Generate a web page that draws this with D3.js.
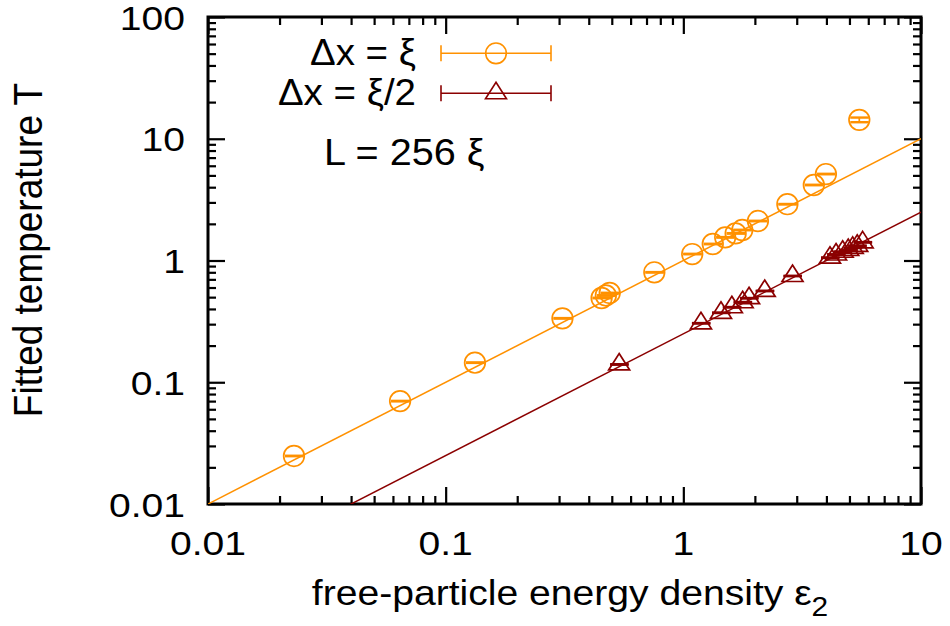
<!DOCTYPE html>
<html><head><meta charset="utf-8">
<script src="https://cdn.jsdelivr.net/npm/d3@7"></script>
<style>body{margin:0;background:#fff}svg{display:block}text{font-family:"Liberation Sans",Arial,sans-serif;fill:#000}</style>
</head><body><svg id="c" width="950" height="626"></svg>
<script>
// ---- data ----
const xMajorTicks = [0.01, 0.1, 1, 10];
const xTickLabels = ["0.01", "0.1", "1", "10"];
const yMajorTicks = [0.01, 0.1, 1, 10, 100];
const yTickLabels = ["0.01", "0.1", "1", "10", "100"];
const seriesNames = ["\u0394x = \u03be", "\u0394x = \u03be/2"];
const eps1 = [0.023, 0.0643, 0.1328, 0.31, 0.453, 0.472, 0.49, 0.755, 1.09, 1.33, 1.50, 1.66, 1.77, 2.06, 2.74, 3.54, 3.98, 5.50];
const T1   = [0.0248, 0.070, 0.1448, 0.335, 0.492, 0.516, 0.541, 0.80, 1.13, 1.366, 1.55, 1.67, 1.78, 2.11, 2.90, 4.17, 5.13, 14.3];
const err1 = [0.0001, 0.0003, 0.0006, 0.0015, 0.002, 0.002, 0.002, 0.003, 0.005, 0.006, 0.007, 0.007, 0.008, 0.009, 0.012, 0.018, 0.022, 0.63];
const eps2 = [0.537, 1.186, 1.44, 1.60, 1.776, 1.89, 2.20, 2.88, 4.14, 4.39, 4.68, 4.94, 5.16, 5.39, 5.68];
const T2   = [0.140, 0.305, 0.372, 0.413, 0.454, 0.49, 0.562, 0.746, 1.054, 1.12, 1.18, 1.22, 1.27, 1.32, 1.41];
const err2 = [0.0006, 0.0013, 0.0016, 0.0018, 0.002, 0.002, 0.0025, 0.003, 0.0045, 0.005, 0.005, 0.005, 0.0055, 0.0057, 0.006];
const fitCoef = [1, 0.25];          // T = c * eps
const fitDomain = [0.01, 10];
const annotation = "L = 256 \u03be";

// ---- layout ----
const L = 208, R = 921, Tp = 17, B = 504;
const colors = ["#ff9100", "#8b0000"];
const svg = d3.select("#c");
const x = d3.scaleLog().domain([0.01, 10]).range([L, R]);
const y = d3.scaleLog().domain([0.01, 100]).range([B, Tp]);

svg.append("defs").append("clipPath").attr("id", "clip")
  .append("rect").attr("x", L).attr("y", Tp).attr("width", R - L).attr("height", B - Tp);

function minorTicks(dom) {
  const out = [];
  for (let e = Math.log10(dom[0]); e < Math.log10(dom[1]) - 1e-9; e++)
    for (let k = 2; k <= 9; k++) out.push(k * Math.pow(10, e));
  return out;
}
function drawAxis(axisFn, scale, vals, size, tr) {
  const g = svg.append("g").attr("transform", tr)
    .call(axisFn(scale).tickValues(vals).tickSize(size).tickFormat(""));
  g.select(".domain").remove();
  g.selectAll(".tick line").attr("stroke", "#000").attr("stroke-width", 2.2);
}
drawAxis(d3.axisBottom, x, xMajorTicks, -17, `translate(0,${B})`);
drawAxis(d3.axisBottom, x, minorTicks([0.01, 10]), -8, `translate(0,${B})`);
drawAxis(d3.axisTop, x, xMajorTicks, -17, `translate(0,${Tp})`);
drawAxis(d3.axisTop, x, minorTicks([0.01, 10]), -8, `translate(0,${Tp})`);
drawAxis(d3.axisLeft, y, yMajorTicks, -17, `translate(${L},0)`);
drawAxis(d3.axisLeft, y, minorTicks([0.01, 100]), -8, `translate(${L},0)`);
drawAxis(d3.axisRight, y, yMajorTicks, -17, `translate(${R},0)`);
drawAxis(d3.axisRight, y, minorTicks([0.01, 100]), -8, `translate(${R},0)`);

svg.append("rect").attr("x", L).attr("y", Tp).attr("width", R - L).attr("height", B - Tp)
  .attr("fill", "none").attr("stroke", "#000").attr("stroke-width", 3);

// tick labels
const tf = 34, sx = 1.15;
svg.append("g").selectAll("text").data(xMajorTicks).join("text")
  .attr("transform", d => `translate(${x(d)},555) scale(${sx},1)`)
  .attr("text-anchor", "middle").attr("font-size", tf)
  .text((d, i) => xTickLabels[i]);
svg.append("g").selectAll("text").data(yMajorTicks).join("text")
  .attr("transform", d => `translate(185,${y(d) + 12.5}) scale(${sx},1)`)
  .attr("text-anchor", "end").attr("font-size", tf)
  .text((d, i) => yTickLabels[i]);

// axis titles
const xt = svg.append("text").attr("transform", `translate(570,605) scale(${sx},1.03)`)
  .attr("text-anchor", "middle").attr("font-size", 34);
xt.append("tspan").text("free-particle energy density \u03b5");
xt.append("tspan").attr("font-size", 26).attr("dy", 11).text("2");
svg.append("text").attr("transform", "translate(42,250) rotate(-90) scale(1,1.1)")
  .attr("text-anchor", "middle").attr("font-size", 37).text("Fitted temperature T");

// fit lines
const plot = svg.append("g").attr("clip-path", "url(#clip)");
fitCoef.forEach((c, i) => {
  plot.append("path")
    .datum(fitDomain.map(e => [e, c * e]))
    .attr("d", d3.line().x(d => x(d[0])).y(d => y(d[1])))
    .attr("fill", "none").attr("stroke", colors[i]).attr("stroke-width", 1.5);
});

// markers
const triPath = "M0,-11L10.5,5.5L-10.5,5.5Z";
function drawSeries(eps, T, err, color, kind) {
  const g = svg.append("g").attr("stroke", color).attr("fill", "none").attr("stroke-width", 1.7);
  const data = eps.map((e, i) => ({ e, t: T[i], s: err[i] }));
  const pts = g.selectAll("g").data(data).join("g")
    .attr("transform", d => `translate(${x(d.e)},0)`);
  pts.append("line").attr("x1", 0).attr("x2", 0)
    .attr("y1", d => y(d.t - d.s)).attr("y2", d => y(d.t + d.s));
  pts.append("line").attr("x1", -9).attr("x2", 9.5)
    .attr("y1", d => y(d.t - d.s)).attr("y2", d => y(d.t - d.s)).attr("stroke-width", 2.4);
  pts.append("line").attr("x1", -9).attr("x2", 9.5)
    .attr("y1", d => y(d.t + d.s)).attr("y2", d => y(d.t + d.s)).attr("stroke-width", 2.4);
  if (kind === 0)
    pts.append("circle").attr("cx", 0).attr("cy", d => y(d.t)).attr("r", 10.3);
  else
    pts.append("path").attr("d", triPath).attr("transform", d => `translate(0,${y(d.t)})`);
}
drawSeries(eps1, T1, err1, colors[0], 0);
drawSeries(eps2, T2, err2, colors[1], 1);

// legend
const legY = [53.3, 93.3];
seriesNames.forEach((name, i) => {
  svg.append("text").attr("transform", `translate(416,${legY[i] + 12}) scale(1.04,1)`)
    .attr("text-anchor", "end").attr("font-size", 37).text(name);
  const g = svg.append("g").attr("stroke", colors[i]).attr("fill", "none").attr("stroke-width", 1.6);
  g.append("line").attr("x1", 441).attr("x2", 551).attr("y1", legY[i]).attr("y2", legY[i]);
  g.append("line").attr("x1", 441).attr("x2", 441).attr("y1", legY[i] - 8).attr("y2", legY[i] + 8);
  g.append("line").attr("x1", 551).attr("x2", 551).attr("y1", legY[i] - 8).attr("y2", legY[i] + 8);
  if (i === 0) g.append("circle").attr("cx", 496).attr("cy", legY[i]).attr("r", 10.3);
  else g.append("path").attr("d", triPath).attr("transform", `translate(496,${legY[i]})`);
});
svg.append("text").attr("transform", "translate(324,165) scale(1.07,1)")
  .attr("font-size", 37).text(annotation);
</script></body></html>
